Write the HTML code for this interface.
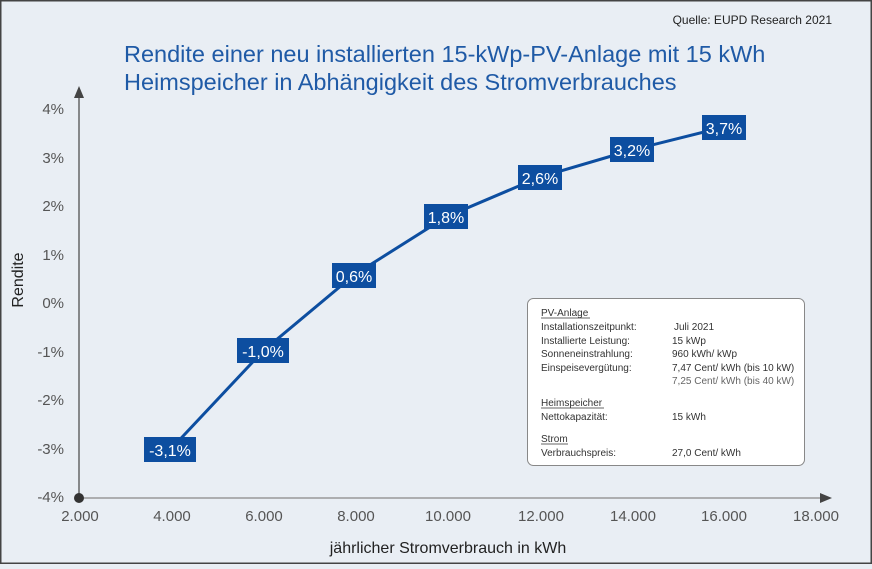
<!DOCTYPE html>
<html><head><meta charset="utf-8"><style>
body{margin:0;width:872px;height:564px;overflow:hidden;background:#e9eef4;font-family:"Liberation Sans",sans-serif}
</style></head><body>
<svg width="872" height="564" xmlns="http://www.w3.org/2000/svg" font-family="Liberation Sans, sans-serif">
<rect x="0.5" y="0.5" width="871" height="563" fill="#e9eef4" stroke="#444" stroke-width="2"/>
<text x="832" y="24" font-size="12" text-anchor="end" fill="#222">Quelle: EUPD Research 2021</text>
<text x="124" y="62" font-size="23.5" fill="#1f5aa6">Rendite einer neu installierten 15-kWp-PV-Anlage mit 15 kWh</text>
<text x="124" y="90" font-size="23.5" fill="#1f5aa6">Heimspeicher in Abhängigkeit des Stromverbrauches</text>
<line x1="79" y1="498" x2="79" y2="96" stroke="#666" stroke-width="1.5"/>
<polygon points="74,98 84,98 79,86" fill="#444"/>
<line x1="79" y1="498" x2="822" y2="498" stroke="#999" stroke-width="1.5"/>
<polygon points="820,493 820,503 832,498" fill="#444"/>
<circle cx="79" cy="498" r="5" fill="#333"/>
<g font-size="15" fill="#555" text-anchor="end">
<text x="64" y="114">4%</text><text x="64" y="163">3%</text><text x="64" y="211">2%</text><text x="64" y="260">1%</text><text x="64" y="308">0%</text><text x="64" y="357">-1%</text><text x="64" y="405">-2%</text><text x="64" y="454">-3%</text><text x="64" y="502">-4%</text>
</g>
<g font-size="15" fill="#555" text-anchor="middle">
<text x="80" y="521">2.000</text><text x="172" y="521">4.000</text><text x="264" y="521">6.000</text><text x="356" y="521">8.000</text><text x="448" y="521">10.000</text><text x="541" y="521">12.000</text><text x="633" y="521">14.000</text><text x="724" y="521">16.000</text><text x="816" y="521">18.000</text>
</g>
<text x="448" y="553" font-size="16" fill="#222" text-anchor="middle">jährlicher Stromverbrauch in kWh</text>
<text transform="translate(23,280) rotate(-90)" font-size="16" fill="#222" text-anchor="middle">Rendite</text>
<polyline points="170,450 263,351 354,275 446,217 540,177 632,150 724,127" fill="none" stroke="#0d4ea0" stroke-width="3"/>
<g font-size="16" fill="#fff" text-anchor="middle" stroke="#fff" stroke-width="0">
<rect x="144" y="437" width="52" height="25" fill="#0d4ea0"/><text x="170" y="456">-3,1%</text>
<rect x="237" y="338" width="52" height="25" fill="#0d4ea0"/><text x="263" y="357">-1,0%</text>
<rect x="332" y="263" width="44" height="25" fill="#0d4ea0"/><text x="354" y="282">0,6%</text>
<rect x="424" y="204" width="44" height="25" fill="#0d4ea0"/><text x="446" y="223">1,8%</text>
<rect x="518" y="165" width="44" height="25" fill="#0d4ea0"/><text x="540" y="184">2,6%</text>
<rect x="610" y="137" width="44" height="25" fill="#0d4ea0"/><text x="632" y="156">3,2%</text>
<rect x="702" y="115" width="44" height="25" fill="#0d4ea0"/><text x="724" y="134">3,7%</text>
</g>
<rect x="527.5" y="298.5" width="277" height="167" rx="6" fill="#fff" stroke="#888"/>
<g font-size="10" fill="#333">
<text x="541" y="316">PV-Anlage</text><line x1="541" y1="318" x2="590" y2="318" stroke="#333" stroke-width="0.7"/>
<text x="541" y="330">Installationszeitpunkt:</text><text x="674" y="330">Juli 2021</text>
<text x="541" y="344">Installierte Leistung:</text><text x="672" y="344">15 kWp</text>
<text x="541" y="357">Sonneneinstrahlung:</text><text x="672" y="357">960 kWh/ kWp</text>
<text x="541" y="371">Einspeisevergütung:</text><text x="672" y="371">7,47 Cent/ kWh (bis 10 kW)</text>
<text x="672" y="384" fill="#666">7,25 Cent/ kWh (bis 40 kW)</text>
<text x="541" y="406">Heimspeicher</text><line x1="541" y1="408" x2="604" y2="408" stroke="#333" stroke-width="0.7"/>
<text x="541" y="420">Nettokapazität:</text><text x="672" y="420">15 kWh</text>
<text x="541" y="442">Strom</text><line x1="541" y1="444" x2="568" y2="444" stroke="#333" stroke-width="0.7"/>
<text x="541" y="456">Verbrauchspreis:</text><text x="672" y="456">27,0 Cent/ kWh</text>
</g>
</svg>
</body></html>
